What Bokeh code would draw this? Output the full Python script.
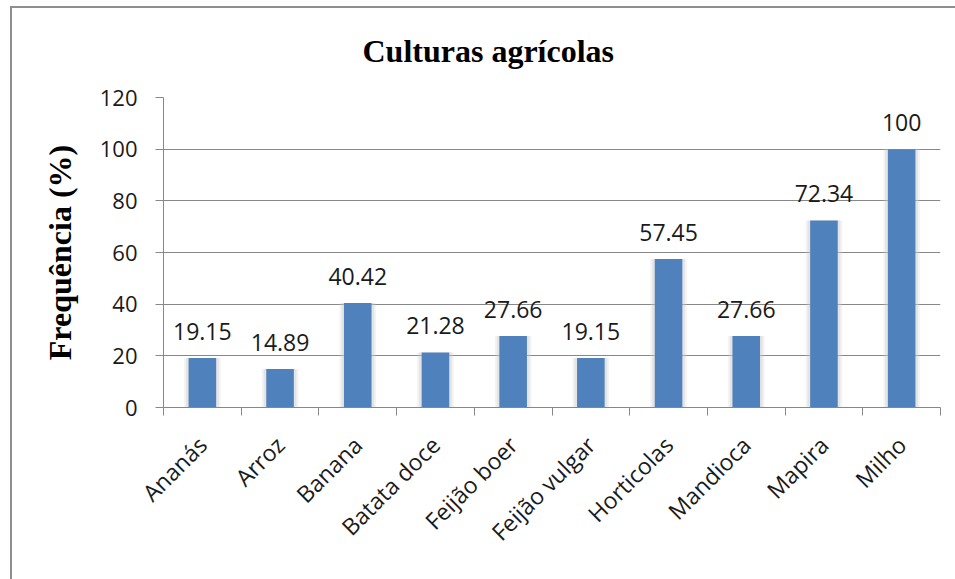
import math
from bokeh.plotting import figure
from bokeh.models import ColumnDataSource, FixedTicker, Range1d
from bokeh.core.properties import value
from bokeh.embed import file_html
from bokeh.resources import INLINE

categories = ["Ananás", "Arroz", "Banana", "Batata doce", "Feijão boer",
              "Feijão vulgar", "Horticolas", "Mandioca", "Mapira", "Milho"]
frequencies = [19.15, 14.89, 40.42, 21.28, 27.66, 19.15, 57.45, 27.66, 72.34, 100]
y_ticks = [0, 20, 40, 60, 80, 100, 120]

centers = [i + 0.5 for i in range(len(categories))]
boundaries = [float(i) for i in range(len(categories) + 1)]
labels = [f"{v:g}" for v in frequencies]

src = ColumnDataSource(dict(x=centers, top=frequencies, label=labels, cat=categories))

p = figure(width=955, height=579, output_backend="svg", toolbar_location=None,
           x_range=Range1d(0, len(categories)), y_range=Range1d(0, 120),
           min_border_left=163, min_border_right=15, min_border_top=97,
           min_border_bottom=172, title="Culturas agrícolas")
p.outline_line_color = None
p.background_fill_color = "white"
p.border_fill_alpha = 0
# outer chart border (top and left edges visible), drawn behind the transparent canvas border
p.styles = {
    "background": ("linear-gradient(#8e8e8e, #8e8e8e) 10px 6px / 2px 700px no-repeat, "
                   "linear-gradient(#8e8e8e, #8e8e8e) 10px 6px / 1000px 2px no-repeat, white"),
}

p.title.align = "left"
p.title.offset = 199
p.title.standoff = 58
p.title.text_font = "Liberation Serif"
p.title.text_font_style = "bold"
p.title.text_font_size = "32px"
p.title.text_color = "black"

# glow behind bars
p.vbar(x="x", top="top", width=0.47, bottom=0, source=src, fill_color="#d0d0d0",
       fill_alpha=0.25, line_color=None)
p.vbar(x="x", top="top", width=0.42, bottom=0, source=src, fill_color="#c8c8c8",
       fill_alpha=0.35, line_color=None)
p.vbar(x="x", top="top", width=0.355, bottom=0, source=src, fill_color="#4F81BD",
       line_color=None)

p.text(x="x", y="top", text="label", source=src, text_align="center",
       text_baseline="alphabetic", y_offset=-27, text_font=value("Open Sans"),
       text_font_size="23px", text_color="#1a1a1a")

grey = "#878787"

# x axis
xa = p.xaxis[0]
xa.ticker = FixedTicker(ticks=centers, minor_ticks=boundaries)
xa.major_label_overrides = {c: n for c, n in zip(centers, categories)}
xa.major_label_orientation = math.pi / 4
xa.major_tick_line_color = None
xa.minor_tick_out = 8
xa.minor_tick_in = 0
xa.minor_tick_line_color = grey
xa.axis_line_color = grey
xa.major_label_standoff = 25
xa.major_label_text_font = "Open Sans"
xa.major_label_text_font_size = "23px"
xa.major_label_text_color = "#1a1a1a"

# y axis
ya = p.yaxis[0]
ya.ticker = FixedTicker(ticks=y_ticks)
ya.axis_label = "Frequência (%)"
ya.axis_label_text_font = "Liberation Serif"
ya.axis_label_text_font_style = "bold"
ya.axis_label_text_font_size = "32px"
ya.axis_label_text_color = "black"
ya.axis_label_standoff = 19
ya.axis_line_color = grey
ya.major_tick_out = 8
ya.major_tick_in = 0
ya.major_tick_line_color = grey
ya.minor_tick_line_color = None
ya.major_label_standoff = 18
ya.major_label_text_font = "Open Sans"
ya.major_label_text_font_size = "22px"
ya.major_label_text_color = "#1a1a1a"

p.xgrid.grid_line_color = None
p.ygrid.grid_line_color = grey
p.ygrid.ticker = FixedTicker(ticks=y_ticks)

open("out.html", "w").write(file_html(p, INLINE))
